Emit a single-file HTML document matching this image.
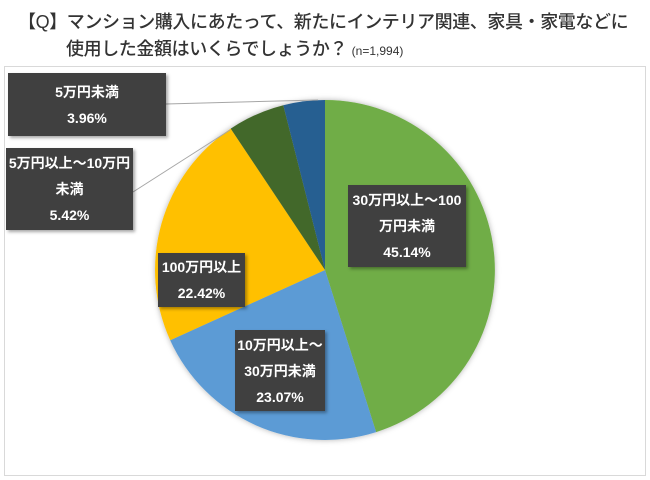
<!DOCTYPE html>
<html><head><meta charset="utf-8"><style>
body{margin:0;width:650px;height:480px;background:#fff;position:relative;overflow:hidden;font-family:"Liberation Sans","Noto Sans CJK JP",sans-serif}
.t{position:absolute;left:18px;font-size:18px;color:#333;font-weight:500;white-space:nowrap;letter-spacing:-0.4px}
.frame{position:absolute;left:4px;top:66px;width:640px;height:408px;border:1px solid #d9d9d9}
.b{position:absolute;background:#404040;color:#fff;font-weight:bold;font-size:14px;text-align:center;box-shadow:2px 2px 3px rgba(0,0,0,.35);display:flex;flex-direction:column;justify-content:center;line-height:26px;white-space:nowrap}
</style></head><body>
<div class="t" style="top:8px">【Q】マンション購入にあたって、新たにインテリア関連、家具・家電などに</div>
<div class="t" style="top:35px;left:66px">使用した金額はいくらでしょうか？ <span style="font-size:12px;letter-spacing:0">(n=1,994)</span></div>
<div class="frame"></div>
<svg style="position:absolute;left:0;top:0" width="650" height="480">
<defs><filter id="s"><feDropShadow dx="0" dy="0" stdDeviation="3" flood-opacity="0.3"/></filter></defs>
<g filter="url(#s)">
<path d="M325,270 L325,100 A170,170 0 0 1 376.1,432.1 Z" fill="#70AD47"/>
<path d="M325,270 L376.1,432.1 A170,170 0 0 1 170.2,340.2 Z" fill="#5B9BD5"/>
<path d="M325,270 L170.2,340.2 A170,170 0 0 1 230.7,128.6 Z" fill="#FFC000"/>
<path d="M325,270 L230.7,128.6 A170,170 0 0 1 283.3,105.2 Z" fill="#43682B"/>
<path d="M325,270 L283.3,105.2 A170,170 0 0 1 325,100 Z" fill="#255E91"/>
</g>
<line x1="166" y1="104" x2="318" y2="100" stroke="#a6a6a6" stroke-width="1"/>
<line x1="133" y1="192" x2="230" y2="130" stroke="#a6a6a6" stroke-width="1"/>
</svg>
<div class="b" style="left:8px;top:73px;width:158px;height:63px"><div>5万円未満</div><div>3.96%</div></div>
<div class="b" style="left:6px;top:148px;width:127px;height:82px"><div>5万円以上～10万円</div><div>未満</div><div>5.42%</div></div>
<div class="b" style="left:348px;top:185px;width:118px;height:82px"><div>30万円以上～100</div><div>万円未満</div><div>45.14%</div></div>
<div class="b" style="left:158px;top:253px;width:87px;height:54px"><div>100万円以上</div><div>22.42%</div></div>
<div class="b" style="left:235px;top:330px;width:90px;height:81px"><div>10万円以上～</div><div>30万円未満</div><div>23.07%</div></div>
</body></html>
